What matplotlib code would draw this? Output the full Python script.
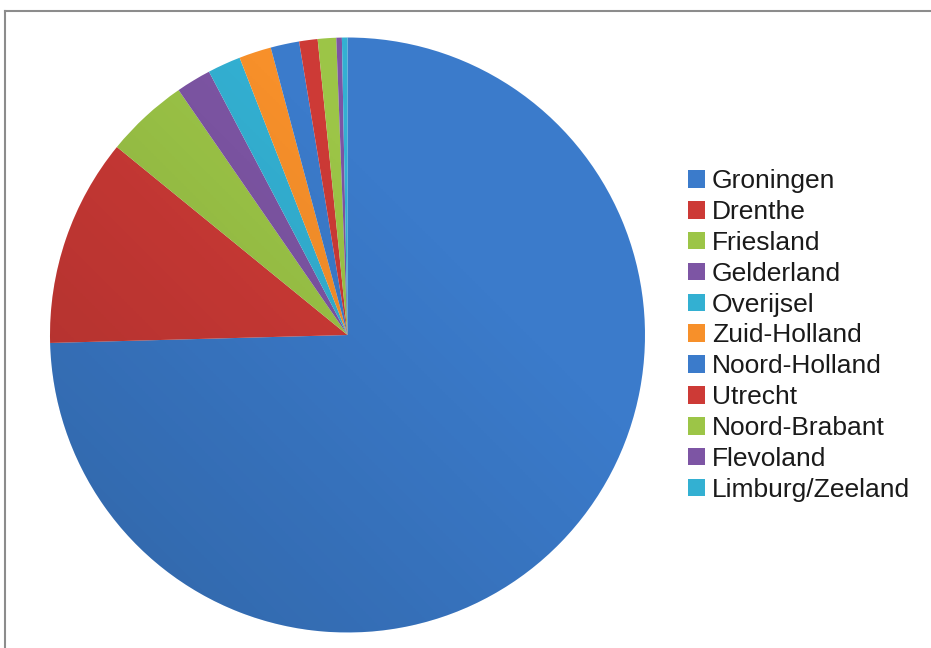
import matplotlib
matplotlib.use("Agg")
import matplotlib.pyplot as plt
import numpy as np
from matplotlib.patches import Circle

plt.rcParams['font.family'] = ['Liberation Sans', 'DejaVu Sans']

# data (share in %)
provinces = ['Groningen', 'Drenthe', 'Friesland', 'Gelderland', 'Overijsel',
             'Zuid-Holland', 'Noord-Holland', 'Utrecht', 'Noord-Brabant',
             'Flevoland', 'Limburg/Zeeland']
shares = [74.5, 11.3, 4.5, 1.9, 1.8, 1.75, 1.55, 1.0, 1.0, 0.3, 0.3]
colors = ['#3B7BCB', '#CD3A36', '#9CC547', '#7D55A4', '#33B0D2', '#F7902A',
          '#3B7BCB', '#CD3A36', '#9CC547', '#7D55A4', '#33B0D2']

W, H = 931, 648
fig = plt.figure(figsize=(W / 100, H / 100), dpi=100)

# pie axes: centre (347.5, 335), radius 297.5 px
cx, cy, r = 347.5, 335, 297.5
ax = fig.add_axes([(cx - r) / W, (H - cy - r) / H, 2 * r / W, 2 * r / H])
wedges, _ = ax.pie(shares, colors=colors, startangle=90, counterclock=False,
                   wedgeprops=dict(linewidth=0))
ax.set_xlim(-1, 1)
ax.set_ylim(-1, 1)
ax.set_aspect('equal')
ax.axis('off')

# subtle shading, darker towards bottom-left
g = np.linspace(0, 1, 200)
gx, gy = np.meshgrid(g, g)
shade = np.clip((1 - gx) * 0.6 + gy * 0.6 - 0.4, 0, 1)
img = np.zeros((200, 200, 4))
img[..., 3] = shade * 0.22
im = ax.imshow(img, extent=[-1, 1, -1, 1], origin='upper', zorder=3)
clip = Circle((0, 0), 1, transform=ax.transData)
im.set_clip_path(clip)

# legend
leg = fig.legend(wedges, provinces, loc='center left',
                 bbox_to_anchor=(688 / W, (H - 335.5) / H),
                 frameon=False, fontsize=19, handlelength=0.65,
                 handleheight=0.65, handletextpad=0.25, labelspacing=0.26,
                 borderpad=0, borderaxespad=0)
for t in leg.get_texts():
    t.set_color('#1a1a1a')

# chart border
fig.add_artist(plt.Line2D([5 / W, 1], [(H - 11) / H, (H - 11) / H],
                          color='#8c8c8c', lw=1.5, transform=fig.transFigure))
fig.add_artist(plt.Line2D([5 / W, 5 / W], [0, (H - 11) / H],
                          color='#8c8c8c', lw=1.5, transform=fig.transFigure))

fig.savefig('out.png', dpi=100)
